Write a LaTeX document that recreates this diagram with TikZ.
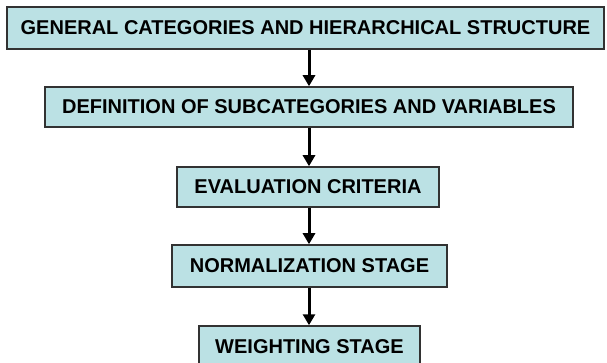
\documentclass[tikz,border=0pt]{standalone}
\usepackage{fontspec}
\setmainfont{Liberation Sans}
\usetikzlibrary{arrows.meta}
\definecolor{boxfill}{RGB}{187,225,228}
\definecolor{boxline}{RGB}{50,50,50}
\begin{document}
\begin{tikzpicture}[x=1pt,y=-1pt,
  stagebox/.style={draw=boxline, line width=1.5pt, fill=boxfill, inner sep=0pt,
    font=\fontsize{20}{23}\selectfont\bfseries},
  flow/.style={line width=3pt, -{Triangle[length=11pt,width=12pt]}}]
\useasboundingbox (0,0) rectangle (607,363);
\fill[white] (0,0) rectangle (607,363);
\clip (0,0) rectangle (607,363);
\node[stagebox, minimum width=597pt, minimum height=42pt] (b1) at (305.5,28) {GENERAL CATEGORIES AND HIERARCHICAL STRUCTURE};
\node[stagebox, minimum width=528pt, minimum height=40pt] (b2) at (309,107) {DEFINITION OF SUBCATEGORIES AND VARIABLES};
\node[stagebox, minimum width=262pt, minimum height=40pt] (b3) at (308,187) {EVALUATION CRITERIA};
\node[stagebox, minimum width=275pt, minimum height=42pt] (b4) at (309.5,266) {NORMALIZATION STAGE};
\node[stagebox, minimum width=221pt, minimum height=42pt] (b5) at (309.5,347) {WEIGHTING STAGE};
\draw[flow] (b1.south -| b2.north) -- (b2.north);
\draw[flow] (b2.south) -- (b3.north -| b2.south);
\draw[flow] (b3.south -| b2.south) -- (b4.north -| b2.south);
\draw[flow] (b4.south -| b2.south) -- (b5.north -| b2.south);
\end{tikzpicture}
\end{document}
